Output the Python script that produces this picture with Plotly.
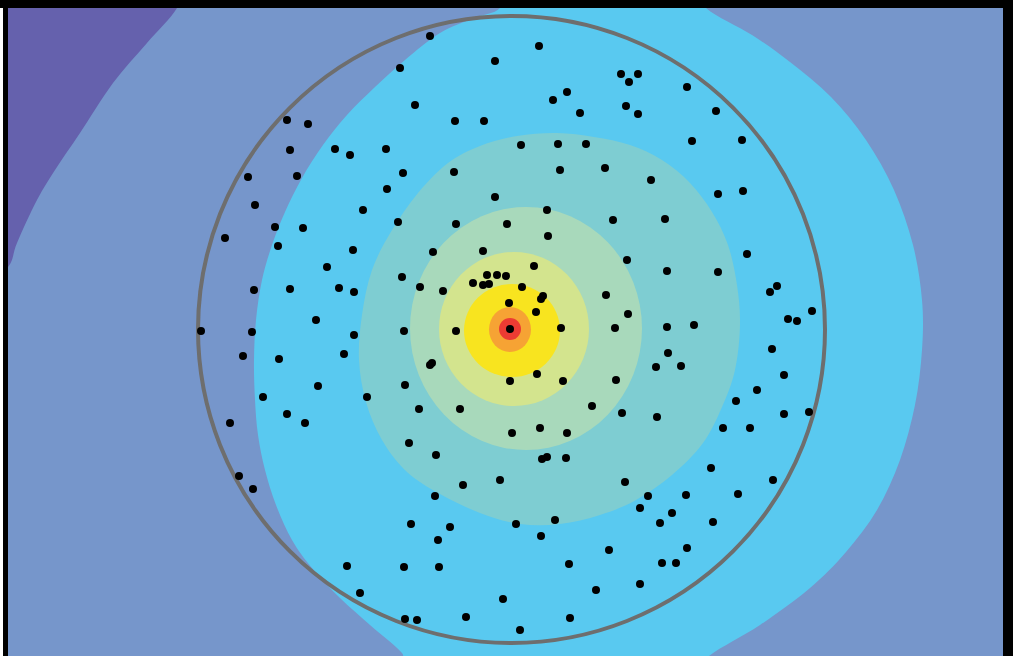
import plotly.graph_objects as go

# zone outlines (pixel coords, y downwards)
purple_x = [-20, 185, 177, 147, 113, 80, 57, 37, 17, 8, -20]
purple_y = [-20, -20, 8, 43, 83, 133, 167, 200, 243, 267, 290]

cyan_x = [500, 510, 690, 706, 752, 790, 831, 866, 894, 913, 922, 922, 915, 900,
          877, 846, 810, 760, 709, 690, 420, 402, 370, 340, 312, 292, 276, 265,
          258, 255, 254, 256, 262, 272, 285, 302, 323, 347, 375, 405, 440, 474]
cyan_y = [8, -20, -20, 8, 35, 62, 97, 140, 190, 245, 300, 350, 405, 460,
          510, 552, 588, 625, 656, 680, 680, 653, 625, 598, 568, 540, 505, 470,
          435, 400, 360, 320, 280, 245, 212, 178, 145, 115, 87, 60, 33, 18]

teal_x = [517, 557, 594, 630, 662, 690, 712, 728, 737, 740, 735, 722, 703, 672,
          636, 600, 560, 520, 480, 440, 407, 382, 366, 359, 362, 372, 392, 418,
          448, 480]
teal_y = [136, 133, 137, 145, 160, 183, 212, 245, 285, 325, 370, 407, 443, 475,
          500, 515, 524, 524, 513, 494, 472, 440, 402, 360, 315, 270, 230, 193,
          163, 146]

# inner rings (bounding boxes)
ring_x0 = [410, 439, 464, 489, 499]
ring_x1 = [642, 589, 560, 531, 521]
ring_y0 = [207, 252, 284, 307, 318]
ring_y1 = [450, 406, 377, 352, 340]
ring_colors = ["#a8d9bb", "#d3e48e", "#f8e41f", "#f6a334", "#ec3b33"]

# boundary circle
circle_box = [198, 825, 16, 643]

# points
dot_x = [400, 287, 308, 290, 335, 350, 386, 248, 297, 403, 387, 255, 363, 398,
         275, 303, 225, 278, 353, 327, 254, 290, 339, 354, 402, 316, 201, 252,
         354, 404, 243, 279, 344, 318, 405, 263, 367, 230, 287, 305,
         239, 253, 347, 404, 360, 405,
         409, 436, 542, 547, 566, 463, 500, 435, 411, 450, 516, 555, 438, 541,
         609, 439, 569, 596, 503, 466, 570, 417, 520,
         625, 711, 773, 648, 686, 738, 640, 672, 660, 713, 687, 662, 676, 640,
         627, 667, 718, 747, 777, 770, 812, 788, 797, 628, 667, 694, 772, 668,
         656, 681, 784, 757, 736, 622, 657, 784, 809, 723, 750,
         621, 638, 629, 687, 626, 638, 716, 692, 742, 651, 718, 743, 665,
         430, 539, 495, 567, 553, 580, 415, 455, 484, 521, 558, 586, 454, 560,
         605, 495, 547, 613, 456, 507,
         548, 433, 483, 534, 487, 497, 506, 473, 483, 489, 420, 443, 522, 543,
         541, 606, 509, 536, 456, 510, 561, 615, 432, 430, 537, 510, 563, 616,
         419, 460, 592, 512, 540, 567]
dot_y = [68, 120, 124, 150, 149, 155, 149, 177, 176, 173, 189, 205, 210, 222,
         227, 228, 238, 246, 250, 267, 290, 289, 288, 292, 277, 320, 331, 332,
         335, 331, 356, 359, 354, 386, 385, 397, 397, 423, 414, 423,
         476, 489, 566, 567, 593, 619,
         443, 455, 459, 457, 458, 485, 480, 496, 524, 527, 524, 520, 540, 536,
         550, 567, 564, 590, 599, 617, 618, 620, 630,
         482, 468, 480, 496, 495, 494, 508, 513, 523, 522, 548, 563, 563, 584,
         260, 271, 272, 254, 286, 292, 311, 319, 321, 314, 327, 325, 349, 353,
         367, 366, 375, 390, 401, 413, 417, 414, 412, 428, 428,
         74, 74, 82, 87, 106, 114, 111, 141, 140, 180, 194, 191, 219,
         36, 46, 61, 92, 100, 113, 105, 121, 121, 145, 144, 144, 172, 170,
         168, 197, 210, 220, 224, 224,
         236, 252, 251, 266, 275, 275, 276, 283, 285, 284, 287, 291, 287, 296,
         299, 295, 303, 312, 331, 329, 328, 328, 363, 365, 374, 381, 381, 380,
         409, 409, 406, 433, 428, 433]


def smooth_path(xs, ys):
    # closed catmull-rom outline through the read points, as bezier segments
    pts = list(zip(xs, ys))
    n = len(pts)
    d = f"M {pts[0][0]},{pts[0][1]}"
    for i in range(n):
        p0, p1 = pts[i - 1], pts[i]
        p2, p3 = pts[(i + 1) % n], pts[(i + 2) % n]
        c1 = (p1[0] + (p2[0] - p0[0]) / 6, p1[1] + (p2[1] - p0[1]) / 6)
        c2 = (p2[0] - (p3[0] - p1[0]) / 6, p2[1] - (p3[1] - p1[1]) / 6)
        d += f" C {c1[0]:.1f},{c1[1]:.1f} {c2[0]:.1f},{c2[1]:.1f} {p2[0]},{p2[1]}"
    return d + " Z"


shapes = []
for xs, ys, col in [(purple_x, purple_y, "#6561ad"),
                    (cyan_x, cyan_y, "#59c9f0"),
                    (teal_x, teal_y, "#7ecdd2")]:
    shapes.append(dict(type="path", path=smooth_path(xs, ys), xref="x", yref="y",
                       fillcolor=col, line=dict(width=0), layer="below"))
for i in range(len(ring_colors)):
    shapes.append(dict(type="circle", xref="x", yref="y",
                       x0=ring_x0[i], x1=ring_x1[i], y0=ring_y0[i], y1=ring_y1[i],
                       fillcolor=ring_colors[i], line=dict(width=0), layer="below"))

shapes.append(dict(type="circle", xref="x", yref="y",
                   x0=circle_box[0], x1=circle_box[1], y0=circle_box[2], y1=circle_box[3],
                   line=dict(color="#6e6e6e", width=4), layer="below"))

# white strip at far left of the frame
shapes.append(dict(type="rect", xref="paper", yref="paper",
                   x0=-8 / 995, x1=-5 / 995, y0=0, y1=1,
                   fillcolor="white", line=dict(width=0), layer="above"))

fig = go.Figure()
fig.add_trace(go.Scatter(x=dot_x, y=dot_y, mode="markers",
                         marker=dict(color="black", size=8),
                         hoverinfo="skip", showlegend=False))

fig.update_layout(
    width=1013, height=656, autosize=False,
    margin=dict(l=8, r=10, t=8, b=0),
    paper_bgcolor="black",
    plot_bgcolor="#7696cb",
    shapes=shapes,
    xaxis=dict(range=[8, 1003], visible=False, showgrid=False, zeroline=False),
    yaxis=dict(range=[656, 8], visible=False, showgrid=False, zeroline=False),
)

fig.write_html("out.html", config={"displayModeBar": False},
               post_script="document.body.style.margin='0';")
